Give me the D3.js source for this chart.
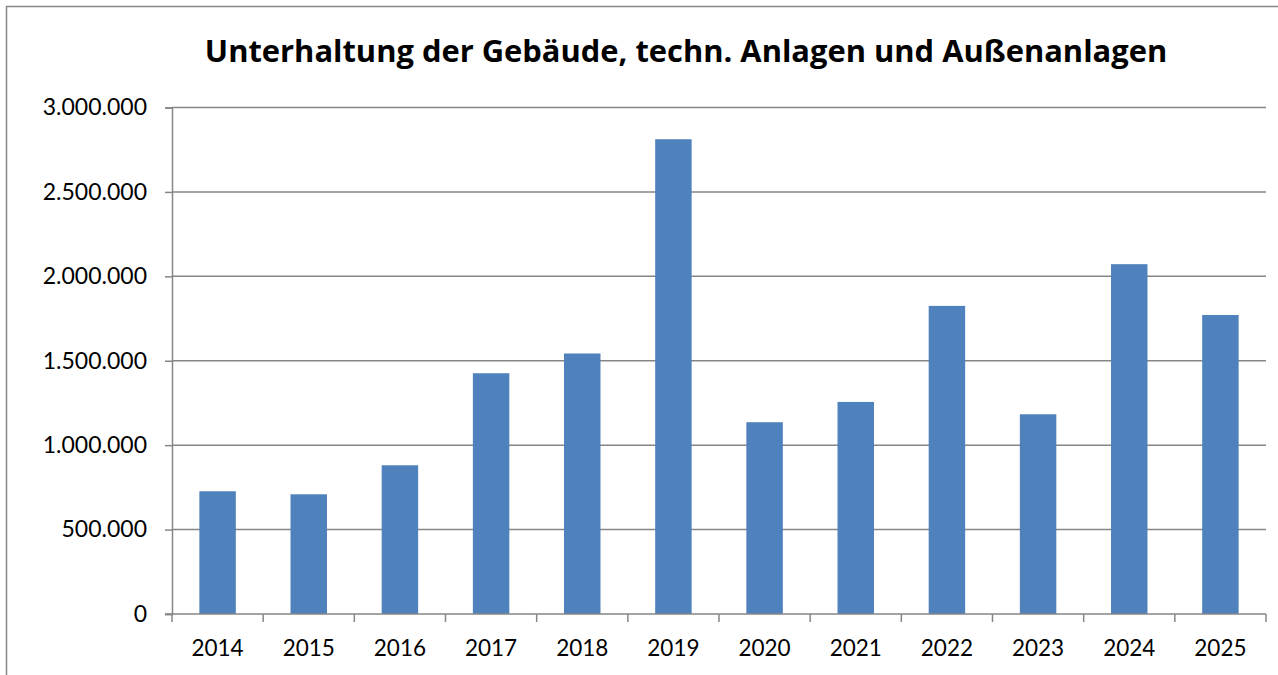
<!DOCTYPE html>
<html>
<head>
<meta charset="utf-8">
<script src="https://cdn.jsdelivr.net/npm/d3@7"></script>
<style>
  html, body { margin: 0; padding: 0; background: #fff; }
  svg text { font-family: Lato, "Open Sans", sans-serif; fill: #000; }
</style>
</head>
<body>
<div id="chart"></div>
<script>
const years = ['2014', '2015', '2016', '2017', '2018', '2019', '2020', '2021', '2022', '2023', '2024', '2025'];
const values = [727000, 709000, 881000, 1426000, 1543000, 2812000, 1136000, 1256000, 1825000, 1183000, 2072000, 1771000];
const yTicks = [0, 500000, 1000000, 1500000, 2000000, 2500000, 3000000];
const title = 'Unterhaltung der Gebäude, techn. Anlagen und Außenanlagen';

const width = 1278;
const height = 675;
const plot = { left: 172, right: 1266, top: 107.5, bottom: 614 };

const svg = d3.select('#chart')
              .append('svg')
              .attr('width', width)
              .attr('height', height);

// outer chart border (continues past the right and bottom edge)
svg.append('rect')
   .attr('x', 6.5)
   .attr('y', 6.5)
   .attr('width', 1400)
   .attr('height', 800)
   .attr('fill', 'none')
   .attr('stroke', '#868686')
   .attr('stroke-width', 1.5);

const titleText = svg.append('text')
   .attr('x', 686)
   .attr('y', 62)
   .attr('text-anchor', 'middle')
   .style('font-family', '"Open Sans", sans-serif')
   .style('font-size', '28px')
   .style('font-weight', 'bold')
   .text(title);
// fit the title to the width it has in the original
let tw = titleText.node().getComputedTextLength();
titleText.style('font-size', (28 * 963 / tw).toFixed(2) + 'px');

const xScale = d3.scaleBand().domain(years).range([plot.left, plot.right])
                 .paddingInner(0.6).paddingOuter(0.3);
const xCat = d3.scaleBand().domain(years).range([plot.left, plot.right]);
const yScale = d3.scaleLinear().domain([0, 3000000]).range([plot.bottom, plot.top]);

const fmt = d => d3.format(',')(d).replace(/,/g, '.');

// gridlines
svg.append('g')
   .selectAll('line')
   .data(yTicks.slice(1))
   .enter()
   .append('line')
   .attr('x1', plot.left)
   .attr('x2', plot.right)
   .attr('y1', d => yScale(d))
   .attr('y2', d => yScale(d))
   .attr('stroke', '#868686')
   .attr('stroke-width', 1.5);

// y axis
const yAxis = d3.axisLeft(yScale).tickValues(yTicks).tickFormat(fmt).tickSize(7).tickPadding(18);
const gy = svg.append('g')
   .attr('transform', `translate(${plot.left}, 0)`)
   .call(yAxis);
gy.selectAll('line, path').attr('stroke', '#868686').attr('stroke-width', 1.5);
gy.selectAll('text').style('font-size', '23px').style('font-family', 'Lato, sans-serif');

// bars
svg.append('g')
   .selectAll('rect')
   .data(values)
   .enter()
   .append('rect')
   .attr('class', 'bar')
   .attr('x', (d, i) => xScale(years[i]))
   .attr('y', d => yScale(d))
   .attr('width', xScale.bandwidth())
   .attr('height', d => yScale(0) - yScale(d))
   .attr('fill', '#4F81BD');

// x axis with ticks on category boundaries
const gx = svg.append('g')
   .attr('transform', `translate(0, ${plot.bottom})`);
gx.append('line')
  .attr('x1', plot.left - 7)
  .attr('x2', plot.right)
  .attr('stroke', '#868686')
  .attr('stroke-width', 1.5);
gx.selectAll('.tick')
  .data(years.concat(['end']))
  .enter()
  .append('line')
  .attr('x1', (d, i) => i < years.length ? xCat(d) : plot.right)
  .attr('x2', (d, i) => i < years.length ? xCat(d) : plot.right)
  .attr('y1', 0)
  .attr('y2', 8)
  .attr('stroke', '#868686')
  .attr('stroke-width', 1.5);
gx.selectAll('text')
  .data(years)
  .enter()
  .append('text')
  .attr('x', d => xCat(d) + xCat.bandwidth() / 2)
  .attr('y', 42)
  .attr('text-anchor', 'middle')
  .style('font-size', '22.5px')
  .text(d => d);
</script>
</body>
</html>
